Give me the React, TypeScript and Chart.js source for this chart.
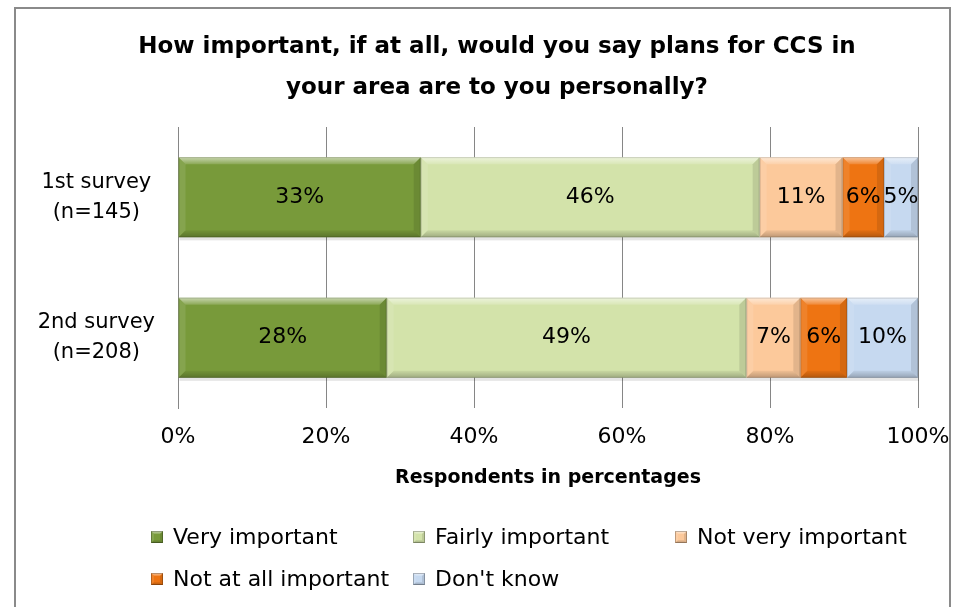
import React, { useEffect, useRef } from "react";
import { Chart, registerables } from "chart.js";

Chart.register(...registerables);

const categories = [["1st survey", "(n=145)"], ["2nd survey", "(n=208)"]];
const seriesNames = ["Very important", "Fairly important", "Not very important", "Not at all important", "Don't know"];
const veryImportant = [32.8, 28.2];
const fairlyImportant = [45.8, 48.6];
const notVeryImportant = [11.2, 7.3];
const notAtAllImportant = [5.6, 6.3];
const dontKnow = [4.6, 9.6];
const seriesColors = ["#789A3A", "#D3E3AA", "#FCC99B", "#EE7412", "#C6D9F0"];
const titleLines = ["How important, if at all, would you say plans for CCS in", "your area are to you personally?"];
const xAxisTitle = "Respondents in percentages";

const FONT = "'DejaVu Sans', sans-serif";

function poly(ctx: CanvasRenderingContext2D, pts: number[][], fill: string | CanvasGradient) {
  ctx.beginPath();
  ctx.moveTo(pts[0][0], pts[0][1]);
  for (let i = 1; i < pts.length; i++) ctx.lineTo(pts[i][0], pts[i][1]);
  ctx.closePath();
  ctx.fillStyle = fill;
  ctx.fill();
}

function bevelRect(ctx: CanvasRenderingContext2D, l: number, t: number, r: number, b: number, d: number) {
  const g = ctx.createLinearGradient(0, t, 0, t + d);
  g.addColorStop(0, "rgba(255,255,255,0.6)");
  g.addColorStop(1, "rgba(255,255,255,0.15)");
  poly(ctx, [[l, t], [r, t], [r - d, t + d], [l + d, t + d]], g);
  const g2 = ctx.createLinearGradient(0, b - d, 0, b);
  g2.addColorStop(0, "rgba(0,0,0,0.05)");
  g2.addColorStop(1, "rgba(0,0,0,0.25)");
  poly(ctx, [[l, b], [r, b], [r - d, b - d], [l + d, b - d]], g2);
  poly(ctx, [[l, t], [l + d, t + d], [l + d, b - d], [l, b]], "rgba(255,255,255,0.1)");
  poly(ctx, [[r, t], [r - d, t + d], [r - d, b - d], [r, b]], "rgba(0,0,0,0.1)");
}

const decorations = {
  id: "decorations",
  beforeDraw(chart: any) {
    const ctx = chart.ctx;
    ctx.save();
    ctx.fillStyle = "#ffffff";
    ctx.fillRect(0, 0, chart.width, chart.height);
    ctx.strokeStyle = "#8a8a8a";
    ctx.lineWidth = 2;
    ctx.strokeRect(15, 8, 935, 640);
    ctx.restore();
  },
  beforeDatasetsDraw(chart: any) {
    const ctx = chart.ctx;
    ctx.save();
    chart.data.datasets.forEach((ds: any, i: number) => {
      const meta = chart.getDatasetMeta(i);
      meta.data.forEach((bar: any) => {
        const { x, y, base, height } = bar.getProps(["x", "y", "base", "height"], true);
        const l = Math.min(x, base), r = Math.max(x, base);
        ctx.fillStyle = "rgba(0,0,0,0.1)";
        ctx.fillRect(l + 1, y - height / 2 + 3, r - l, height);
      });
    });
    ctx.restore();
  },
  afterDatasetsDraw(chart: any) {
    const ctx = chart.ctx;
    ctx.save();
    chart.data.datasets.forEach((ds: any, i: number) => {
      const meta = chart.getDatasetMeta(i);
      meta.data.forEach((bar: any, j: number) => {
        const { x, y, base, height } = bar.getProps(["x", "y", "base", "height"], true);
        const l = Math.min(x, base), r = Math.max(x, base);
        const t = y - height / 2, b = y + height / 2;
        bevelRect(ctx, l, t, r, b, 7);
        ctx.strokeStyle = "rgba(0,0,0,0.15)";
        ctx.lineWidth = 1;
        ctx.strokeRect(l + 0.5, t + 0.5, r - l - 1, b - t - 1);
        ctx.fillStyle = "#000";
        ctx.font = `22px ${FONT}`;
        ctx.textAlign = "center";
        ctx.textBaseline = "middle";
        ctx.fillText(Math.round(ds.data[j]) + "%", (l + r) / 2, y);
      });
    });
    ctx.restore();
  },
  afterDraw(chart: any) {
    const ctx = chart.ctx;
    ctx.save();
    // title
    ctx.fillStyle = "#000";
    ctx.font = `bold 23px ${FONT}`;
    ctx.textAlign = "center";
    ctx.textBaseline = "middle";
    ctx.fillText(titleLines[0], 497, 47);
    ctx.fillText(titleLines[1], 497, 88);
    // legend
    const cols = [173, 435, 697];
    const rows = [537, 579];
    ctx.font = `22px ${FONT}`;
    ctx.textAlign = "left";
    chart.data.datasets.forEach((ds: any, i: number) => {
      const tx = cols[i < 3 ? i : i - 3];
      const ty = rows[i < 3 ? 0 : 1];
      const bx = tx - 22, by = ty - 6, bs = 12;
      ctx.fillStyle = ds.backgroundColor;
      ctx.fillRect(bx, by, bs, bs);
      bevelRect(ctx, bx, by, bx + bs, by + bs, 3);
      ctx.strokeStyle = "rgba(0,0,0,0.25)";
      ctx.lineWidth = 1;
      ctx.strokeRect(bx + 0.5, by + 0.5, bs - 1, bs - 1);
      ctx.fillStyle = "#000";
      ctx.fillText(ds.label, tx, ty + 1);
    });
    ctx.restore();
  },
};

export default function App() {
  const ref = useRef<HTMLCanvasElement>(null);
  useEffect(() => {
    const values = [veryImportant, fairlyImportant, notVeryImportant, notAtAllImportant, dontKnow];
    const chart = new Chart(ref.current!, {
      type: "bar",
      data: {
        labels: categories,
        datasets: seriesNames.map((name, i) => ({
          label: name,
          data: values[i],
          backgroundColor: seriesColors[i],
          borderWidth: 0,
          barPercentage: 0.571,
          categoryPercentage: 1,
        })),
      },
      options: {
        indexAxis: "y",
        animation: false,
        responsive: true,
        maintainAspectRatio: false,
        layout: { padding: { top: 127, right: 38, left: 0, bottom: 109 } },
        plugins: { legend: { display: false }, title: { display: false }, tooltip: { enabled: false } },
        scales: {
          x: {
            stacked: true,
            min: 0,
            max: 100,
            afterFit: (s: any) => { s.height = 90; s.paddingLeft = 0; s.paddingRight = 0; },
            ticks: {
              stepSize: 20,
              callback: (v: any) => v + "%",
              color: "#000",
              font: { family: FONT, size: 22, lineHeight: 1.2 },
              padding: 16,
            },
            grid: { color: "#868686", drawTicks: false, lineWidth: 1 },
            border: { display: false },
            title: {
              display: true,
              text: xAxisTitle,
              color: "#000",
              font: { family: FONT, size: 19, weight: "bold", lineHeight: 1.2 },
              padding: { top: 0, bottom: 9 },
            },
          },
          y: {
            stacked: true,
            afterFit: (s: any) => { s.width = 178; s.paddingTop = 0; s.paddingBottom = 0; },
            ticks: {
              crossAlign: "center",
              color: "#000",
              font: { family: FONT, size: 21, lineHeight: 1.43 },
              padding: 23,
            },
            grid: { display: false, drawTicks: false },
            border: { display: true, color: "#868686", width: 1 },
          },
        },
      },
      plugins: [decorations],
    } as any);
    return () => chart.destroy();
  }, []);
  return (
    <div style={{ position: "fixed", left: 0, top: 0, width: 956, height: 607 }}>
      <canvas ref={ref} />
    </div>
  );
}
